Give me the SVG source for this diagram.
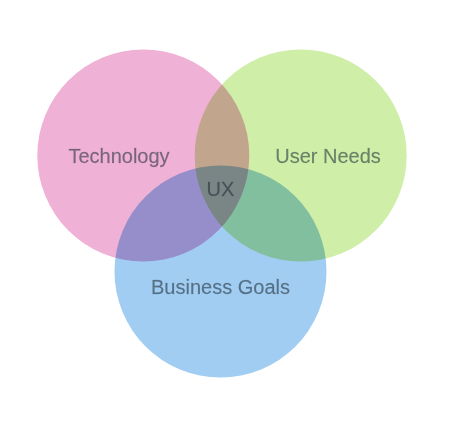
<svg xmlns="http://www.w3.org/2000/svg" width="452" height="421" viewBox="0 0 452 421">
  <style>
    .c { mix-blend-mode: multiply; }
    .t { font-family: "Liberation Sans", Arial, Helvetica, sans-serif; font-size: 20px; fill: #1e2a36; fill-opacity: 0.56; text-anchor: middle; stroke: #1e2a36; stroke-opacity: 0.25; stroke-width: 0.3px; }
  </style>
  <rect width="452" height="421" fill="#ffffff"/>
  <g style="isolation:isolate">
    <g id="technology">
      <circle class="c" cx="143.3" cy="155.5" r="106" fill="#EFB1D6"/>
    </g>
    <g id="user-needs">
      <circle class="c" cx="300.7" cy="155.5" r="106" fill="#CFEEA8"/>
    </g>
    <g id="business-goals">
      <circle class="c" cx="220.5" cy="271.5" r="106" fill="#A0CDF1"/>
    </g>
  </g>
  <g id="connectors"></g>
  <g id="labels">
    <text class="t" x="119" y="162.5">Technology</text>
    <text class="t" x="328" y="162.5">User Needs</text>
    <text class="t" x="220.5" y="294">Business Goals</text>
    <text class="t" x="220.5" y="195.5">UX</text>
  </g>
</svg>
